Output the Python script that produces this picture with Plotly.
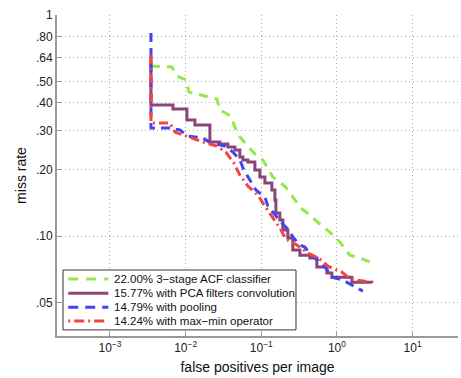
import plotly.graph_objects as go

# ---- data (false positives per image, miss rate) ----
acf_fppi = [0.003481, 0.00659, 0.00767, 0.01009, 0.01106, 0.0180, 0.0259, 0.0284, 0.0396, 0.0448,
            0.0521, 0.0646, 0.0798, 0.105, 0.142, 0.205, 0.261, 0.333, 0.438, 0.632,
            0.805, 1.09, 1.48, 2.01, 2.98]
acf_mr = [0.588, 0.582, 0.530, 0.508, 0.448, 0.430, 0.417, 0.372, 0.349, 0.311,
          0.281, 0.258, 0.2375, 0.221, 0.185, 0.168, 0.150, 0.134, 0.1245, 0.111,
          0.1043, 0.0940, 0.0820, 0.0795, 0.0755]

pca_fppi = [0.003481, 0.003481, 0.00680, 0.01040, 0.01327, 0.02094, 0.02838, 0.03621, 0.0448, 0.0521,
            0.0571, 0.0665, 0.0823, 0.0958, 0.1116, 0.138, 0.1514, 0.156, 0.176, 0.193,
            0.2246, 0.261, 0.3236, 0.438, 0.5427, 0.7357, 0.856, 1.573, 2.89]
pca_mr = [0.6455, 0.3915, 0.3755, 0.3348, 0.3178, 0.2663, 0.2609, 0.2528, 0.2449, 0.2278,
          0.2208, 0.2162, 0.1989, 0.1849, 0.1737, 0.1615, 0.1455, 0.1271, 0.1181, 0.1064,
          0.0980, 0.0864, 0.0820, 0.0795, 0.0724, 0.0680, 0.0652, 0.0619, 0.0613]

pool_fppi = [0.003481, 0.003481, 0.00620, 0.00841, 0.01072, 0.01693, 0.02159, 0.03305, 0.04215, 0.0521,
             0.0589, 0.0707, 0.0849, 0.1116, 0.1223, 0.1607, 0.1871, 0.2315, 0.2615, 0.3236,
             0.3767, 0.4519, 0.5767, 0.7136, 0.856, 1.197, 1.573, 2.198]
pool_mr = [0.829, 0.3082, 0.3082, 0.3018, 0.2835, 0.2777, 0.2636, 0.2554, 0.2399, 0.2208,
           0.1989, 0.1792, 0.1615, 0.150, 0.1367, 0.1219, 0.1145, 0.1064, 0.0990, 0.0911,
           0.0892, 0.0820, 0.0771, 0.0716, 0.0652, 0.0632, 0.0600, 0.0564]

mm_fppi = [0.003481, 0.003481, 0.00620, 0.00722, 0.01106, 0.01693, 0.0259, 0.03406, 0.04345, 0.0521,
           0.0665, 0.0901, 0.1116, 0.1423, 0.176, 0.2113, 0.2954, 0.4127, 0.5943, 0.7586,
           1.161, 1.393, 1.888, 2.89]
mm_mr = [0.659, 0.3246, 0.3246, 0.2955, 0.2805, 0.2663, 0.2554, 0.2399, 0.2140, 0.1888,
         0.1684, 0.1532, 0.1367, 0.1206, 0.1087, 0.0969, 0.0911, 0.0838, 0.0787, 0.0731,
         0.0687, 0.0652, 0.0632, 0.0619]

names = ["22.00% 3\u2212stage ACF classifier",
         "15.77% with PCA filters convolution",
         "14.79% with pooling",
         "14.24% with max\u2212min operator"]

x_tickvals = [1e-3, 1e-2, 1e-1, 1e0, 1e1]
x_ticktext = ["10<sup>\u22123</sup>", "10<sup>\u22122</sup>", "10<sup>\u22121</sup>",
              "10<sup>0</sup>", "10<sup>1</sup>"]
y_tickvals = [0.05, 0.10, 0.20, 0.30, 0.40, 0.50, 0.64, 0.80, 1.0]
y_ticktext = [".05", ".10", ".20", ".30", ".40", ".50", ".64", ".80", "1"]

FONT = "Liberation Sans, Arial, sans-serif"

series = [
    (acf_fppi, acf_mr, dict(color="#95E84C", width=3, dash="9px,7px")),
    (pca_fppi, pca_mr, dict(color="#8A4677", width=3, shape="hv")),
    (pool_fppi, pool_mr, dict(color="#4444F2", width=3, dash="9px,6px")),
    (mm_fppi, mm_mr, dict(color="#F24444", width=3, dash="9px,4px,2px,4px")),
]

fig = go.Figure()
for (xs, ys, ln), nm in zip(series, names):
    fig.add_trace(go.Scatter(x=xs, y=ys, mode="lines", name=nm, line=ln, showlegend=False))

# ---- compact legend box (MATLAB style) ----
leg_x0, leg_x1, leg_y0, leg_y1 = 0.015, 0.596, 0.019, 0.2056
row_y = [0.1776, 0.133, 0.0894, 0.0467]
sample_x0, sample_x1, text_x = 0.028, 0.128, 0.137
shapes = [dict(type="rect", xref="paper", yref="paper", x0=leg_x0, x1=leg_x1, y0=leg_y0, y1=leg_y1,
               line=dict(color="#333", width=1), fillcolor="white", layer="above")]
legend_dash = ["10px,8px", "solid", "10px,7px", "2px,4px,10px,4px"]
annotations = []
for (xs, ys, ln), nm, ry, dsh in zip(series, names, row_y, legend_dash):
    shapes.append(dict(type="line", xref="paper", yref="paper", x0=sample_x0, x1=sample_x1,
                       y0=ry, y1=ry, line=dict(color=ln["color"], width=3, dash=dsh), layer="above"))
    annotations.append(dict(xref="paper", yref="paper", x=text_x, y=ry, xanchor="left",
                            yanchor="middle", text=nm, showarrow=False,
                            font=dict(family=FONT, size=11.5, color="#111")))

grid = dict(showgrid=True, gridcolor="#a8a8a8", griddash="1px,3px", gridwidth=1)

fig.update_layout(
    width=461, height=378,
    margin=dict(l=57, r=3, t=15, b=42),
    paper_bgcolor="white", plot_bgcolor="white",
    font=dict(family=FONT, size=12, color="#222"),
    showlegend=False,
    shapes=shapes,
    annotations=annotations,
    xaxis=dict(type="log", range=[-3.7, 1.6],
               tickvals=x_tickvals, ticktext=x_ticktext, **grid,
               showline=True, linecolor="#999", linewidth=2, mirror=False,
               ticks="inside", ticklen=4, tickcolor="#999",
               zeroline=False,
               title=dict(text="false positives per image", standoff=8,
                          font=dict(family=FONT, size=14, color="#111")),
               tickfont=dict(family=FONT, size=12, color="#222")),
    yaxis=dict(type="log", range=[-1.452, 0],
               tickvals=y_tickvals, ticktext=y_ticktext, **grid,
               showline=True, linecolor="#999", linewidth=2, mirror=False,
               ticks="inside", ticklen=4, tickcolor="#999",
               zeroline=False,
               title=dict(text="miss rate", standoff=6,
                          font=dict(family=FONT, size=14, color="#111")),
               tickfont=dict(family=FONT, size=12, color="#222")),
)

fig.write_html("out.html", post_script="document.body.style.margin='0';",
               config={"displayModeBar": False})
